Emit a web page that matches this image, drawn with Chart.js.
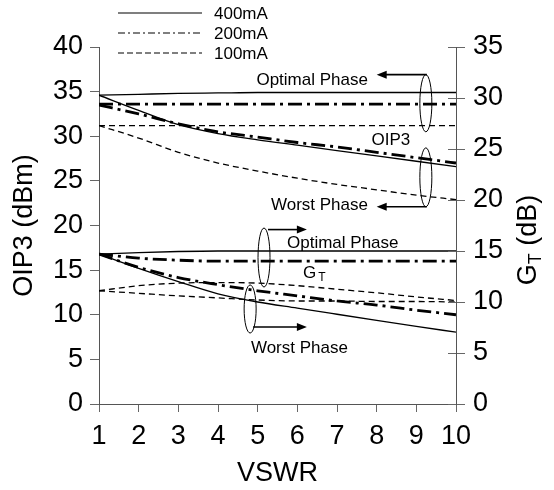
<!DOCTYPE html>
<html>
<head>
<meta charset="utf-8">
<script src="https://cdn.jsdelivr.net/npm/chart.js@4.4.1/dist/chart.umd.min.js"></script>
<style>
  html, body { margin: 0; padding: 0; background: #fff; }
  canvas { display: block; }
</style>
</head>
<body>
<canvas id="c" width="554" height="490"></canvas>
<script>
// VSWR sweep
const vswr = [1, 2, 3, 4, 5, 6, 7, 8, 9, 10]

// OIP3 (dBm), left axis
const oip3Opt400   = [34.6, 34.7, 34.8, 34.85, 34.9, 34.9, 34.9, 34.9, 34.9, 34.9]
const oip3Opt200   = [33.6, 33.6, 33.6, 33.6, 33.6, 33.6, 33.6, 33.6, 33.6, 33.6]
const oip3Opt100   = [31.2, 31.2, 31.2, 31.2, 31.2, 31.2, 31.2, 31.2, 31.2, 31.2]
const oip3Worst400 = [34.6, 32.9, 31.3, 30.3, 29.6, 29.0, 28.4, 27.8, 27.2, 26.6]
const oip3Worst200 = [33.5, 32.5, 31.4, 30.5, 29.9, 29.3, 28.8, 28.2, 27.6, 27.0]
const oip3Worst100 = [31.2, 29.8, 28.2, 27.0, 26.1, 25.3, 24.6, 24.0, 23.4, 22.9]

// G_T (dB), right axis
const gtOpt400   = [14.7, 14.85, 14.95, 15.0, 15.0, 15.0, 15.0, 15.0, 15.0, 15.0]
const gtOpt200   = [14.7, 14.3, 14.1, 14.0, 14.0, 14.0, 14.0, 14.0, 14.0, 14.0]
const gtOpt100   = [11.1, 11.6, 11.85, 11.9, 11.85, 11.6, 11.25, 10.9, 10.5, 10.15]
const gtWorst400 = [14.7, 13.3, 12.0, 10.8, 10.0, 9.4, 8.8, 8.2, 7.6, 7.05]
const gtWorst200 = [14.7, 13.4, 12.4, 11.7, 11.1, 10.6, 10.1, 9.7, 9.2, 8.75]
const gtWorst100 = [11.1, 10.85, 10.6, 10.4, 10.2, 10.1, 10.1, 10.05, 10.05, 10.0]

const legendLabels = ["400mA", "200mA", "100mA"]

const FONT = "'Liberation Sans', Arial, sans-serif"
const SOLID = { borderWidth: 1.3, borderDash: [] }
const DASHDOT = { borderWidth: 2.8, borderDash: [14, 5, 3, 5] }
const DASHED = { borderWidth: 1.3, borderDash: [6, 4] }

function line(values, style, axis) {
  return {
    data: vswr.map((x, i) => ({ x: x, y: values[i] })),
    yAxisID: axis,
    borderColor: "#000",
    borderWidth: style.borderWidth,
    borderDash: style.borderDash,
    pointRadius: 0,
    fill: false,
    cubicInterpolationMode: "monotone"
  }
}

const datasets = [
  line(oip3Opt400, SOLID, "y"),
  line(oip3Opt200, DASHDOT, "y"),
  line(oip3Opt100, DASHED, "y"),
  line(oip3Worst400, SOLID, "y"),
  line(oip3Worst200, DASHDOT, "y"),
  line(oip3Worst100, DASHED, "y"),
  line(gtOpt400, SOLID, "y2"),
  line(gtOpt200, DASHDOT, "y2"),
  line(gtOpt100, DASHED, "y2"),
  line(gtWorst400, SOLID, "y2"),
  line(gtWorst200, DASHDOT, "y2"),
  line(gtWorst100, DASHED, "y2")
]

function arrow(ctx, x1, y, x2) {
  const dir = x2 > x1 ? 1 : -1
  ctx.beginPath()
  ctx.moveTo(x1, y)
  ctx.lineTo(x2 - dir * 8, y)
  ctx.lineWidth = 1.6
  ctx.stroke()
  ctx.beginPath()
  ctx.moveTo(x2, y)
  ctx.lineTo(x2 - dir * 10, y - 4)
  ctx.lineTo(x2 - dir * 10, y + 4)
  ctx.closePath()
  ctx.fill()
}

function ellipse(ctx, cx, yTop, yBot) {
  ctx.beginPath()
  ctx.ellipse(cx, (yTop + yBot) / 2, 6, (yBot - yTop) / 2, 0, 0, Math.PI * 2)
  ctx.lineWidth = 1
  ctx.stroke()
}

const decor = {
  id: "decor",
  afterDraw(chart) {
    const ctx = chart.ctx
    const x = chart.scales.x, yl = chart.scales.y, yr = chart.scales.y2
    ctx.save()
    ctx.strokeStyle = "#000"
    ctx.fillStyle = "#000"
    ctx.setLineDash([])

    // inner half of the right axis ticks (they cross the axis)
    ctx.strokeStyle = "#666"
    ctx.lineWidth = 1
    yr.ticks.forEach(t => {
      const yy = Math.round(yr.getPixelForValue(t.value)) + 0.5
      ctx.beginPath()
      ctx.moveTo(yr.left - 8, yy)
      ctx.lineTo(yr.left, yy)
      ctx.stroke()
    })
    ctx.strokeStyle = "#000"

    // legend
    const styles = [SOLID, { borderWidth: 1.2, borderDash: [7, 3, 2, 3] }, { borderWidth: 1.2, borderDash: [6, 3] }]
    ctx.font = "17px " + FONT
    ctx.textBaseline = "middle"
    legendLabels.forEach((lab, i) => {
      const yy = 13 + i * 20
      ctx.beginPath()
      ctx.setLineDash(styles[i].borderDash)
      ctx.lineWidth = 1.2
      ctx.moveTo(118, yy)
      ctx.lineTo(202, yy)
      ctx.stroke()
      ctx.setLineDash([])
      ctx.fillText(lab, 214, yy + 1)
    })

    // OIP3 group (left axis)
    const ex = x.getPixelForValue(9.24)
    const a1 = yl.getPixelForValue(36.9), a2 = yl.getPixelForValue(22.1)
    ellipse(ctx, ex, a1, yl.getPixelForValue(30.5))
    ellipse(ctx, ex, yl.getPixelForValue(28.7), a2)
    arrow(ctx, ex + 1, a1, x.getPixelForValue(8.0))
    arrow(ctx, ex + 1, a2, x.getPixelForValue(8.0))
    ctx.textAlign = "right"
    ctx.fillText("Optimal Phase", x.getPixelForValue(7.78), yl.getPixelForValue(36.3))
    ctx.fillText("Worst Phase", x.getPixelForValue(7.78), yl.getPixelForValue(22.3))
    ctx.textAlign = "center"
    ctx.fillText("OIP3", x.getPixelForValue(8.36), yl.getPixelForValue(29.5))

    // G_T group (right axis)
    const cx1 = x.getPixelForValue(5.16), cx2 = x.getPixelForValue(4.81)
    const b1 = yr.getPixelForValue(17.1), b2 = yr.getPixelForValue(7.55)
    ellipse(ctx, cx1, yr.getPixelForValue(17.25), yr.getPixelForValue(11.47))
    ellipse(ctx, cx2, yr.getPixelForValue(11.67), yr.getPixelForValue(6.96))
    arrow(ctx, cx1 + 4, b1, x.getPixelForValue(6.24))
    arrow(ctx, cx2 + 3, b2, x.getPixelForValue(6.24))
    ctx.textAlign = "left"
    ctx.fillText("Optimal Phase", x.getPixelForValue(5.74), yr.getPixelForValue(15.8))
    ctx.fillText("Worst Phase", x.getPixelForValue(4.83), yr.getPixelForValue(5.5))
    const gx = x.getPixelForValue(6.14), gy = yr.getPixelForValue(12.84)
    ctx.fillText("G", gx, gy)
    ctx.font = "12px " + FONT
    ctx.fillText("T", gx + ctx.measureText("G").width + 6, gy + 5)

    // right axis title with subscript
    ctx.translate(529, 240)
    ctx.rotate(-Math.PI / 2)
    ctx.font = "27px " + FONT
    const wG = ctx.measureText("G").width
    const rest = " (dB)"
    const wRest = ctx.measureText(rest).width
    ctx.font = "18px " + FONT
    const wT = ctx.measureText("T").width
    const total = wG + wT + wRest
    let px = -total / 2
    ctx.textAlign = "left"
    ctx.font = "27px " + FONT
    ctx.fillText("G", px, 0)
    px += wG
    ctx.font = "18px " + FONT
    ctx.fillText("T", px, 7)
    px += wT
    ctx.font = "27px " + FONT
    ctx.fillText(rest, px, 0)
    ctx.restore()
  }
}

const tickFont = { family: FONT, size: 27 }
const axisGrid = { drawOnChartArea: false, drawTicks: true, tickLength: 9, color: "#666" }

new Chart(document.getElementById("c"), {
  type: "line",
  data: { datasets: datasets },
  options: {
    responsive: false,
    animation: false,
    devicePixelRatio: 1,
    layout: { padding: { top: 47, left: 0, right: 0, bottom: 0 } },
    plugins: { legend: { display: false }, tooltip: { enabled: false } },
    scales: {
      x: {
        type: "linear",
        min: 1, max: 10,
        ticks: { stepSize: 1, color: "#000", font: tickFont, padding: 8, maxRotation: 0 },
        grid: { drawOnChartArea: false, drawTicks: true, tickLength: 8, color: "#666" },
        border: { color: "#555" },
        title: { display: true, text: "VSWR", color: "#000", font: { family: FONT, size: 27 }, padding: { top: -6, bottom: 0 } },
        afterFit: s => { s.height = 86 }
      },
      y: {
        position: "left",
        min: 0, max: 40,
        ticks: { stepSize: 5, color: "#000", font: tickFont, padding: 7 },
        grid: axisGrid,
        border: { color: "#555" },
        title: { display: true, text: "OIP3 (dBm)", color: "#000", font: { family: FONT, size: 27 }, padding: { top: 8, bottom: 0 } },
        afterFit: s => { s.width = 99 }
      },
      y2: {
        position: "right",
        min: 0, max: 35,
        ticks: { stepSize: 5, color: "#000", font: tickFont, padding: 8 },
        grid: axisGrid,
        border: { color: "#555" },
        afterFit: s => { s.width = 98 }
      }
    }
  },
  plugins: [decor]
})
</script>
</body>
</html>
